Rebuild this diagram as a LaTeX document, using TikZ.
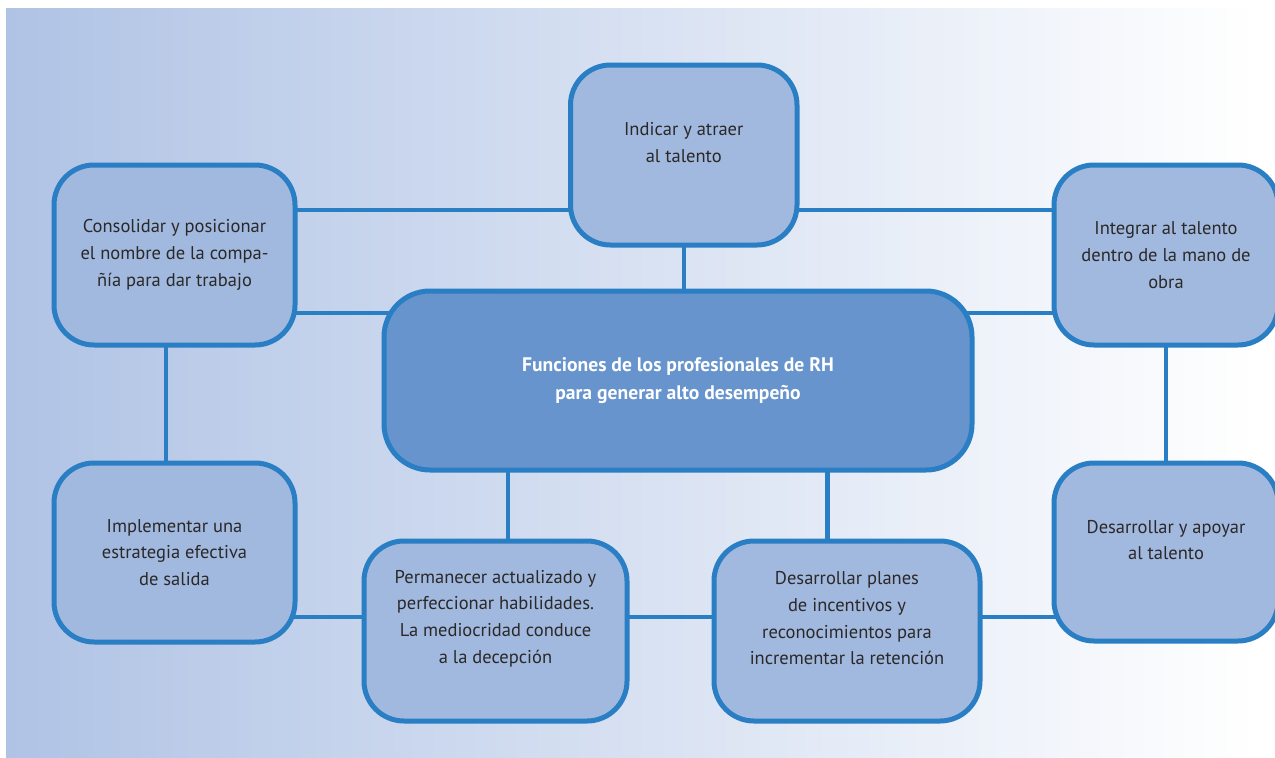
\documentclass[tikz,border=0pt]{standalone}
\usepackage{fontspec}
\setmainfont{PT Sans}
\usetikzlibrary{calc}

\definecolor{paperL}{RGB}{176,195,229}
\definecolor{cardfill}{RGB}{161,185,222}
\definecolor{hubfill}{RGB}{103,148,204}
\definecolor{edge}{RGB}{42,126,195}
\definecolor{ink}{RGB}{43,40,41}

\pgfdeclarelayer{paper}
\pgfdeclarelayer{links}
\pgfsetlayers{paper,links,main}

\begin{document}
\begin{tikzpicture}[x=1pt,y=-1pt,
  card/.style={draw=edge, line width=5pt, fill=cardfill, rounded corners=40pt, inner sep=0pt},
  hub/.style={card, fill=hubfill, rounded corners=46pt},
  caption/.style={text=ink, align=center, inner sep=0pt,
    font=\fontsize{18.5}{26.7}\selectfont},
  hubcaption/.style={caption, text=white, font=\fontsize{19.6}{28}\selectfont\bfseries},
  link/.style={draw=edge, line width=4.5pt}]

\useasboundingbox (0,0) rectangle (1275,758);
\clip (0,0) rectangle (1275,758);

% paper with its horizontal fade
\begin{pgfonlayer}{paper}
  \shade[left color=paperL, right color=white] (6,8) rectangle (1257,758);
\end{pgfonlayer}

% boxes
\node[card, minimum width=241pt, minimum height=180pt] (lt) at (174.5,255) {};
\node[card, minimum width=226.5pt, minimum height=180pt] (top) at (683.75,155) {};
\node[card, minimum width=224pt, minimum height=180pt] (rt) at (1166,255) {};
\node[hub, minimum width=588pt, minimum height=179pt] (ctr) at (678,380.5) {};
\node[card, minimum width=241pt, minimum height=179pt] (lb) at (174.5,552.5) {};
\node[card, minimum width=224pt, minimum height=178pt] (rb) at (1166,552) {};
\node[card, minimum width=263pt, minimum height=180pt] (pm) at (495.5,631) {};
\node[card, minimum width=266pt, minimum height=180pt] (dp) at (847,631) {};

% texts
\node[caption] (lt-t) at (lt.center) {Consolidar y posicionar\\el nombre de la compa-\\ñía para dar trabajo};
\node[caption] (top-t) at ([yshift=12.5pt]top.center) {Indicar y atraer\\al talento};
\node[caption] (rt-t) at (rt.center) {Integrar al talento\\dentro de la mano de\\obra};
\node[hubcaption] (ctr-t) at (ctr.center) {Funciones de los profesionales de RH\\para generar alto desempeño};
\node[caption] (lb-t) at (lb.center) {Implementar una\\estrategia efectiva\\de salida};
\node[caption] (rb-t) at ([yshift=12pt]rb.center) {Desarrollar y apoyar\\al talento};
\node[caption] (pm-t) at ([yshift=12.5pt]pm.center) {Permanecer actualizado y\\perfeccionar habilidades.\\La mediocridad conduce\\a la decepción};
\node[caption] (dp-t) at ([yshift=12.5pt]dp.center) {Desarrollar planes\\de incentivos y\\reconocimientos para\\incrementar la retención};

% guide rows and columns for the connectors
\coordinate (row1) at (0,210);
\coordinate (row2) at (0,313);
\coordinate (row3) at (0,617);
\coordinate (col1) at (166,0);
\coordinate (col2) at (508,0);
\coordinate (col3) at (827.5,0);

% connectors, behind the boxes
\begin{pgfonlayer}{links}
  \draw[link] (lt.center |- row1) -- (top.center |- row1);
  \draw[link] (top.center |- row1) -- (rt.center |- row1);
  \draw[link] (lt.center |- row2) -- (ctr.center |- row2);
  \draw[link] (ctr.center |- row2) -- (rt.center |- row2);
  \draw[link] (top.center) -- (top.center |- ctr.center);
  \draw[link] (col1 |- lt.center) -- (col1 |- lb.center);
  \draw[link] (rt.center) -- (rb.center);
  \draw[link] (col2 |- ctr.center) -- (col2 |- pm.center);
  \draw[link] (col3 |- ctr.center) -- (col3 |- dp.center);
  \draw[link] (lb.center |- row3) -- (pm.center |- row3);
  \draw[link] (pm.center |- row3) -- (dp.center |- row3);
  \draw[link] (dp.center |- row3) -- (rb.center |- row3);
\end{pgfonlayer}
\end{tikzpicture}
\end{document}
